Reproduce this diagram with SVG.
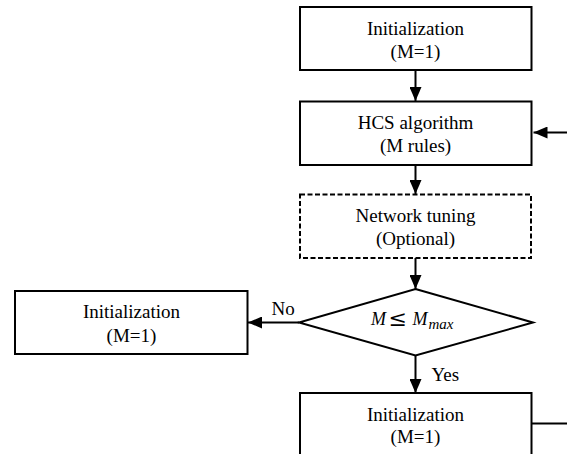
<svg xmlns="http://www.w3.org/2000/svg" width="567" height="454" viewBox="0 0 567 454">
<style>
.box{fill:#fff;stroke:#000;stroke-width:2}
.dash{stroke-dasharray:5 2.5}
.t{font-family:"Liberation Serif","Times New Roman",serif;font-size:19px;fill:#000;text-anchor:middle}
.lbl{font-family:"Liberation Serif","Times New Roman",serif;font-size:19px;fill:#000}
.m{font-family:"Liberation Serif","Times New Roman",serif;fill:#000}
.c{fill:none;stroke:#000;stroke-width:2}
</style>
<defs>
<marker id="ah" viewBox="0 0 14 12" refX="14" refY="6" markerWidth="14" markerHeight="12" markerUnits="userSpaceOnUse" orient="auto">
<path d="M0,0 L14,6 L0,12 Z" fill="#000"/>
</marker>
</defs>
<g id="connectors">
<line class="c" x1="415.5" y1="70" x2="415.5" y2="101" marker-end="url(#ah)"/>
<line class="c" x1="567" y1="132.5" x2="533.5" y2="132.5" marker-end="url(#ah)"/>
<line class="c" x1="415.5" y1="165" x2="415.5" y2="194" marker-end="url(#ah)"/>
<line class="c" x1="415.5" y1="258" x2="415.5" y2="289" marker-end="url(#ah)"/>
<line class="c" x1="299" y1="322.5" x2="248" y2="322.5" marker-end="url(#ah)"/>
<line class="c" x1="415.5" y1="355.5" x2="415.5" y2="393" marker-end="url(#ah)"/>
<line class="c" x1="531.5" y1="423.5" x2="567" y2="423.5"/>
<text class="lbl" x="271.5" y="315">No</text>
<text class="lbl" x="431.5" y="381">Yes</text>
</g>
<g id="init-top">
<rect class="box" x="300" y="7" width="231.5" height="63"/>
<text class="t" x="415.5" y="35">Initialization</text>
<text class="t" x="415.5" y="57.5">(M=1)</text>
</g>
<g id="hcs">
<rect class="box" x="300" y="101.5" width="231.5" height="63.5"/>
<text class="t" x="415.5" y="129">HCS algorithm</text>
<text class="t" x="415.5" y="151.5">(M rules)</text>
</g>
<g id="tuning">
<rect class="box dash" x="300" y="194.5" width="231" height="63.5"/>
<text class="t" x="415.5" y="222">Network tuning</text>
<text class="t" x="415.5" y="244.5">(Optional)</text>
</g>
<g id="decision">
<polygon class="box" points="415.5,289 533,322.5 415.5,355.5 299,322.5"/>
<text class="m" y="325"><tspan x="371" font-size="18" font-style="italic">M</tspan><tspan x="388.5" y="326" font-size="22" font-family="DejaVu Serif, serif">≤</tspan><tspan x="412.5" y="325" font-size="18" font-style="italic">M</tspan><tspan x="428.5" y="328.5" font-size="15" font-style="italic">max</tspan></text>
</g>
<g id="init-left">
<rect class="box" x="15" y="291" width="232.5" height="63"/>
<text class="t" x="131.5" y="318">Initialization</text>
<text class="t" x="131.5" y="341.5">(M=1)</text>
</g>
<g id="init-bottom">
<rect class="box" x="300" y="393" width="231.5" height="63"/>
<text class="t" x="415.5" y="420.5">Initialization</text>
<text class="t" x="415.5" y="443">(M=1)</text>
</g>
</svg>
